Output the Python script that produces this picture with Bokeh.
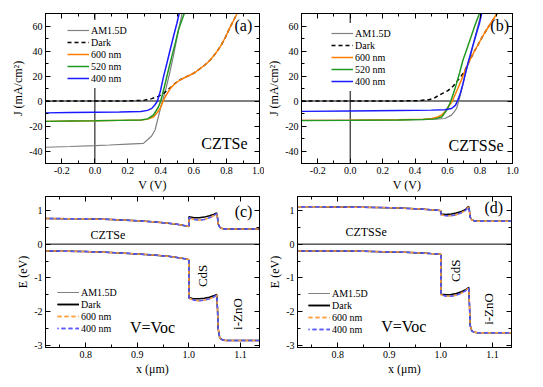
import math
from bokeh.plotting import figure
from bokeh.models import (LinearAxis, SingleIntervalTicker, PrintfTickFormatter, Span, Label, Range1d)
from bokeh.layouts import column, row
from bokeh.embed import file_html
from bokeh.resources import INLINE

FONT = "Liberation Serif"

# ---------------- Panel (a): CZTSe J-V ----------------
va_am1 = [-0.30, -0.15, 0.00, 0.09, 0.20, 0.295, 0.32, 0.345, 0.366, 0.386, 0.400, 0.415, 0.430, 0.450, 0.480, 0.510, 0.530]
ja_am1 = [-37.0, -36.4, -35.7, -35.2, -34.5, -33.9, -31.0, -28.0, -23.0, -12.5, -5.0, 2.0, 9.0, 20.0, 38.0, 58.0, 70.0]
va_dark = [-0.30, 0.00, 0.20, 0.295, 0.320, 0.346, 0.366, 0.386, 0.410, 0.430, 0.460, 0.478, 0.498, 0.518, 0.550, 0.579, 0.610, 0.640, 0.670, 0.701, 0.730, 0.762, 0.793, 0.823, 0.845, 0.864]
ja_dark = [0.0, 0.0, 0.1, 0.5, 1.2, 1.9, 2.8, 3.7, 5.5, 7.5, 10.8, 13.0, 15.2, 17.0, 19.0, 20.8, 23.0, 26.0, 29.0, 32.8, 37.5, 43.5, 51.0, 59.5, 65.0, 70.0]
va_600 = [-0.30, -0.15, 0.00, 0.15, 0.28, 0.320, 0.356, 0.380, 0.396, 0.415, 0.430, 0.447, 0.460, 0.478, 0.498, 0.518, 0.550, 0.579, 0.610, 0.640, 0.670, 0.701, 0.730, 0.762, 0.793, 0.823, 0.845, 0.864]
ja_600 = [-16.3, -16.0, -15.8, -15.5, -15.2, -14.5, -12.8, -9.0, -6.0, 0.0, 4.0, 7.5, 10.3, 12.8, 15.0, 16.8, 19.0, 20.8, 23.0, 26.0, 29.0, 32.8, 37.5, 43.5, 51.0, 59.5, 65.0, 70.0]
va_520 = [-0.30, -0.15, 0.00, 0.15, 0.28, 0.320, 0.356, 0.386, 0.400, 0.412, 0.427, 0.447, 0.467, 0.488, 0.508, 0.543]
ja_520 = [-16.3, -16.0, -15.8, -15.5, -15.2, -14.3, -11.2, -4.8, 0.0, 6.0, 14.0, 25.0, 35.5, 46.0, 57.0, 70.0]
va_400 = [-0.30, -0.15, 0.00, 0.15, 0.28, 0.320, 0.346, 0.365, 0.380, 0.398, 0.417, 0.437, 0.457, 0.478, 0.498, 0.512]
ja_400 = [-9.5, -9.2, -9.0, -8.8, -8.4, -7.5, -5.9, -3.0, 0.0, 8.0, 19.5, 30.0, 40.8, 52.0, 62.0, 70.0]

# ---------------- Panel (b): CZTSSe J-V ----------------
vb_am1 = [-0.30, 0.00, 0.30, 0.45, 0.523, 0.584, 0.624, 0.642, 0.655, 0.669, 0.685, 0.705, 0.725, 0.745, 0.765, 0.786, 0.806]
jb_am1 = [-15.5, -15.3, -15.0, -14.8, -14.6, -14.0, -11.3, -8.5, -6.0, 0.0, 8.0, 19.5, 29.0, 38.0, 49.0, 59.5, 70.0]
vb_dark = [-0.30, 0.30, 0.420, 0.485, 0.520, 0.545, 0.575, 0.604, 0.635, 0.663, 0.684, 0.705, 0.735, 0.766, 0.796, 0.826, 0.865, 0.905]
jb_dark = [0.0, 0.0, 0.3, 1.0, 2.5, 4.5, 6.5, 8.5, 12.0, 16.5, 20.0, 24.0, 32.0, 40.0, 47.0, 54.0, 62.0, 70.0]
vb_600 = [-0.30, 0.00, 0.30, 0.45, 0.503, 0.540, 0.564, 0.588, 0.604, 0.630, 0.646, 0.663, 0.684, 0.705, 0.735, 0.766, 0.796, 0.826, 0.865, 0.905]
jb_600 = [-15.5, -15.3, -15.0, -14.5, -14.0, -12.8, -11.2, -8.0, -4.8, 0.0, 5.0, 10.0, 16.5, 23.5, 32.0, 40.0, 47.0, 54.0, 62.0, 70.0]
vb_520 = [-0.30, 0.00, 0.30, 0.45, 0.523, 0.564, 0.594, 0.614, 0.620, 0.636, 0.655, 0.675, 0.695, 0.720, 0.745, 0.770, 0.796]
jb_520 = [-15.7, -15.5, -15.2, -14.8, -14.3, -12.8, -7.5, -2.0, 0.0, 6.0, 13.9, 23.0, 32.8, 42.0, 51.5, 61.0, 70.0]
vb_400 = [-0.30, 0.00, 0.30, 0.50, 0.584, 0.624, 0.648, 0.661, 0.678, 0.695, 0.710, 0.725, 0.745, 0.766, 0.782, 0.796, 0.810]
jb_400 = [-8.3, -8.0, -7.6, -7.3, -7.0, -6.0, -3.5, 0.0, 6.0, 13.9, 22.0, 30.0, 39.5, 48.8, 56.0, 62.0, 70.0]

# ---------------- Band diagrams (c) CZTSe and (d) CZTSSe ----------------
x_um = [0.722, 0.76, 0.80, 0.85, 0.90, 0.93, 0.96, 0.98, 0.995, 0.9999, 1.0001, 1.01, 1.02, 1.03, 1.04, 1.048, 1.054, 1.0555, 1.0568, 1.060, 1.0646, 1.071, 1.09, 1.137]

cbc_am1 = [0.76, 0.755, 0.75, 0.73, 0.69, 0.66, 0.62, 0.58, 0.54, 0.52, 0.78, 0.73, 0.71, 0.73, 0.78, 0.84, 0.90, 0.78, 0.60, 0.50, 0.46, 0.45, 0.45, 0.45]
cbc_dark = [0.76, 0.755, 0.75, 0.73, 0.69, 0.66, 0.62, 0.58, 0.54, 0.52, 0.81, 0.78, 0.78, 0.80, 0.84, 0.88, 0.92, 0.80, 0.60, 0.50, 0.46, 0.45, 0.45, 0.45]
cbc_600 = [0.76, 0.755, 0.75, 0.73, 0.69, 0.66, 0.62, 0.58, 0.54, 0.52, 0.78, 0.73, 0.71, 0.73, 0.78, 0.84, 0.90, 0.78, 0.60, 0.50, 0.46, 0.45, 0.45, 0.45]
cbc_400 = [0.76, 0.755, 0.75, 0.73, 0.69, 0.66, 0.62, 0.58, 0.54, 0.52, 0.78, 0.73, 0.71, 0.73, 0.78, 0.84, 0.90, 0.78, 0.60, 0.50, 0.46, 0.45, 0.45, 0.45]
vbc_am1 = [-0.20, -0.21, -0.22, -0.25, -0.29, -0.32, -0.36, -0.40, -0.44, -0.46, -1.60, -1.66, -1.68, -1.66, -1.62, -1.57, -1.51, -1.90, -2.50, -2.78, -2.83, -2.85, -2.85, -2.85]
vbc_dark = [-0.20, -0.21, -0.22, -0.25, -0.29, -0.32, -0.36, -0.40, -0.44, -0.46, -1.58, -1.62, -1.62, -1.60, -1.57, -1.53, -1.49, -1.90, -2.50, -2.78, -2.83, -2.85, -2.85, -2.85]
vbc_600 = [-0.20, -0.21, -0.22, -0.25, -0.29, -0.32, -0.36, -0.40, -0.44, -0.46, -1.60, -1.66, -1.68, -1.66, -1.62, -1.57, -1.51, -1.90, -2.50, -2.78, -2.83, -2.85, -2.85, -2.85]
vbc_400 = [-0.20, -0.21, -0.22, -0.25, -0.29, -0.32, -0.36, -0.40, -0.44, -0.46, -1.60, -1.66, -1.68, -1.66, -1.62, -1.57, -1.51, -1.90, -2.50, -2.78, -2.83, -2.85, -2.85, -2.85]

cbd_am1 = [1.11, 1.11, 1.10, 1.09, 1.08, 1.06, 1.04, 1.02, 1.00, 0.99, 0.87, 0.84, 0.84, 0.87, 0.93, 1.00, 1.10, 0.97, 0.80, 0.72, 0.69, 0.68, 0.68, 0.68]
cbd_dark = [1.11, 1.11, 1.10, 1.09, 1.08, 1.06, 1.04, 1.02, 1.00, 0.99, 0.89, 0.88, 0.89, 0.92, 0.97, 1.03, 1.12, 0.98, 0.80, 0.72, 0.69, 0.68, 0.68, 0.68]
cbd_600 = [1.11, 1.11, 1.10, 1.09, 1.08, 1.06, 1.04, 1.02, 1.00, 0.99, 0.87, 0.84, 0.84, 0.87, 0.93, 1.00, 1.10, 0.97, 0.80, 0.72, 0.69, 0.68, 0.68, 0.68]
cbd_400 = [1.11, 1.11, 1.10, 1.09, 1.08, 1.06, 1.04, 1.02, 1.00, 0.99, 0.87, 0.84, 0.84, 0.87, 0.93, 1.00, 1.10, 0.97, 0.80, 0.72, 0.69, 0.68, 0.68, 0.68]
vbd_am1 = [-0.20, -0.20, -0.20, -0.21, -0.23, -0.24, -0.26, -0.28, -0.29, -0.30, -1.50, -1.54, -1.54, -1.51, -1.45, -1.38, -1.30, -1.80, -2.40, -2.57, -2.61, -2.62, -2.62, -2.62]
vbd_dark = [-0.20, -0.20, -0.20, -0.21, -0.23, -0.24, -0.26, -0.28, -0.29, -0.30, -1.48, -1.50, -1.49, -1.46, -1.41, -1.35, -1.28, -1.80, -2.40, -2.57, -2.61, -2.62, -2.62, -2.62]
vbd_600 = [-0.20, -0.20, -0.20, -0.21, -0.23, -0.24, -0.26, -0.28, -0.29, -0.30, -1.50, -1.54, -1.54, -1.51, -1.45, -1.38, -1.30, -1.80, -2.40, -2.57, -2.61, -2.62, -2.62, -2.62]
vbd_400 = [-0.20, -0.20, -0.20, -0.21, -0.23, -0.24, -0.26, -0.28, -0.29, -0.30, -1.50, -1.54, -1.54, -1.51, -1.45, -1.38, -1.30, -1.80, -2.40, -2.57, -2.61, -2.62, -2.62, -2.62]

GREY = "#808080"
ORANGE = "#FF7F00"
GREEN = "#229922"
BLUE = "#1A1AFF"
ORANGE_D = "#FFA040"
BLUE_D = "#5A5AFF"


def style_axis(ax, labels=True):
    ax.axis_line_color = "black"
    ax.axis_line_width = 1
    ax.major_tick_line_color = "black"
    ax.minor_tick_line_color = "black"
    ax.major_tick_in = 5
    ax.major_tick_out = 0
    ax.minor_tick_in = 3
    ax.minor_tick_out = 0
    ax.major_label_text_font = FONT
    if labels:
        ax.major_label_text_color = "black"
        ax.major_label_text_font_size = "10px"
        ax.major_label_standoff = 3
    else:
        ax.major_label_text_alpha = 0
        ax.major_label_text_font_size = "0px"
        ax.major_label_standoff = 0
    ax.axis_label_text_font = FONT
    ax.axis_label_text_font_size = "12px"
    ax.axis_label_text_font_style = "normal"
    ax.axis_label_text_color = "black"
    ax.axis_label_standoff = 1


def make_fig(width, height, xr, yr, borders, xint, yint, xfmt, yfmt, xlabel, ylabel):
    bl, br, bt, bb = borders
    p = figure(width=width, height=height, x_range=Range1d(*xr), y_range=Range1d(*yr),
               output_backend="svg", toolbar_location=None, tools="",
               min_border_left=bl, min_border_right=br, min_border_top=bt, min_border_bottom=bb)
    p.grid.visible = False
    p.outline_line_color = "black"
    p.outline_line_width = 1
    p.background_fill_color = "white"
    p.border_fill_color = "white"
    xt = SingleIntervalTicker(interval=xint, num_minor_ticks=2)
    yt = SingleIntervalTicker(interval=yint, num_minor_ticks=2)
    p.xaxis.ticker = xt
    p.yaxis.ticker = yt
    p.xaxis.formatter = PrintfTickFormatter(format=xfmt)
    p.yaxis.formatter = PrintfTickFormatter(format=yfmt)
    p.xaxis.axis_label = xlabel
    p.yaxis.axis_label = ylabel
    for ax in p.xaxis + p.yaxis:
        style_axis(ax, True)
    top = LinearAxis(ticker=xt)
    right = LinearAxis(ticker=yt)
    style_axis(top, False)
    style_axis(right, False)
    p.add_layout(top, "above")
    p.add_layout(right, "right")
    return p


def add_text(p, x, y, text, size, angle=0.0):
    p.add_layout(Label(x=x, y=y, text=text, text_font=FONT, text_font_size=size,
                       text_align="center", text_baseline="middle", angle=angle,
                       text_color="black"))


def style_legend(p, loc, white, row_h=12):
    lg = p.legend[0]
    lg.location = loc
    lg.label_text_font = FONT
    lg.label_text_font_size = "10px"
    lg.label_text_color = "black"
    lg.glyph_width = 22
    lg.glyph_height = row_h
    lg.label_height = row_h
    lg.label_standoff = 2
    lg.spacing = 0
    lg.padding = 4 if white else 0
    lg.margin = 0
    lg.border_line_alpha = 0
    lg.background_fill_color = "white"
    lg.background_fill_alpha = 1 if white else 0


def jv_panel(width, borders, data, tag, name, tag_pos, name_pos, leg_loc):
    p = make_fig(width, 194, (-0.3, 1.0), (-50, 70), borders, 0.2, 20, "%.1f", "%d",
                 "V (V)", "J (mA/cm²)")
    p.add_layout(Span(location=0, dimension="width", line_color="black", line_width=1, level="underlay"))
    p.add_layout(Span(location=0, dimension="height", line_color="black", line_width=1, level="underlay"))
    (v1, j1), (v2, j2), (v3, j3), (v4, j4), (v5, j5) = data
    p.line(v1, j1, line_color=GREY, line_width=1.2, legend_label="AM1.5D")
    p.line(v2, j2, line_color="black", line_width=1.5, line_dash="4 3", legend_label="Dark")
    p.line(v3, j3, line_color=ORANGE, line_width=1.5, legend_label="600 nm")
    p.line(v4, j4, line_color=GREEN, line_width=1.5, legend_label="520 nm")
    p.line(v5, j5, line_color=BLUE, line_width=1.5, legend_label="400 nm")
    add_text(p, tag_pos[0], tag_pos[1], tag, "16px")
    add_text(p, name_pos[0], name_pos[1], name, "16px")
    style_legend(p, leg_loc, True)
    return p


def band_panel(width, borders, cb, vb, tag, name, tag_pos, name_pos, cds_pos, zno_pos, voc_pos, leg_loc):
    p = make_fig(width, 185, (0.722, 1.137), (-3.06, 1.41), borders, 0.1, 1, "%.1f", "%d",
                 "x (μm)", "E (eV)")
    p.add_layout(Span(location=0, dimension="width", line_color="black", line_width=1, level="underlay"))
    styles = [
        ("AM1.5D", dict(line_color=GREY, line_width=1.0)),
        ("Dark", dict(line_color="black", line_width=1.5)),
        ("600 nm", dict(line_color=ORANGE_D, line_width=1.5, line_dash="4 3")),
        ("400 nm", dict(line_color=BLUE_D, line_width=1.5, line_dash="4 3", line_dash_offset=3)),
    ]
    for (lab, st), c, v in zip(styles, cb, vb):
        p.line(x_um, c, legend_label=lab, **st)
        p.line(x_um, v, legend_label=lab, **st)
    add_text(p, tag_pos[0], tag_pos[1], tag, "16px")
    add_text(p, name_pos[0], name_pos[1], name, "12px")
    add_text(p, cds_pos[0], cds_pos[1], "CdS", "13px", math.pi / 2)
    add_text(p, zno_pos[0], zno_pos[1], "i-ZnO", "13px", math.pi / 2)
    add_text(p, voc_pos[0], voc_pos[1], "V=Voc", "16px")
    style_legend(p, leg_loc, False)
    return p


pa = jv_panel(264, (45, 5, 13, 29),
              [(va_am1, ja_am1), (va_dark, ja_dark), (va_600, ja_600), (va_520, ja_520), (va_400, ja_400)],
              "(a)", "CZTSe", (0.902, 60.8), (0.787, -33.6), (18, 75))
pb = jv_panel(266, (33, 18, 13, 29),
              [(vb_am1, jb_am1), (vb_dark, jb_dark), (vb_600, jb_600), (vb_520, jb_520), (vb_400, jb_400)],
              "(b)", "CZTSSe", (0.921, 60.8), (0.776, -35.2), (26, 72))
pc = band_panel(264, (45, 5, 2, 32),
                [cbc_am1, cbc_dark, cbc_600, cbc_400], [vbc_am1, vbc_dark, vbc_600, vbc_400],
                "(c)", "CZTSe", (1.106, 0.96), (0.843, 0.276), (1.0264, -0.94), (1.0942, -2.07),
                (0.9297, -2.48), (12, 13))
pd_ = band_panel(266, (33, 19, 2, 32),
                 [cbd_am1, cbd_dark, cbd_600, cbd_400], [vbd_am1, vbd_dark, vbd_600, vbd_400],
                 "(d)", "CZTSSe", (1.1025, 1.076), (0.855, 0.364), (1.029, -0.79), (1.0928, -1.92),
                 (0.9283, -2.45), (11, 12))

layout = column(row(pa, pb), row(pc, pd_))
open("out.html", "w").write(file_html(layout, INLINE))
